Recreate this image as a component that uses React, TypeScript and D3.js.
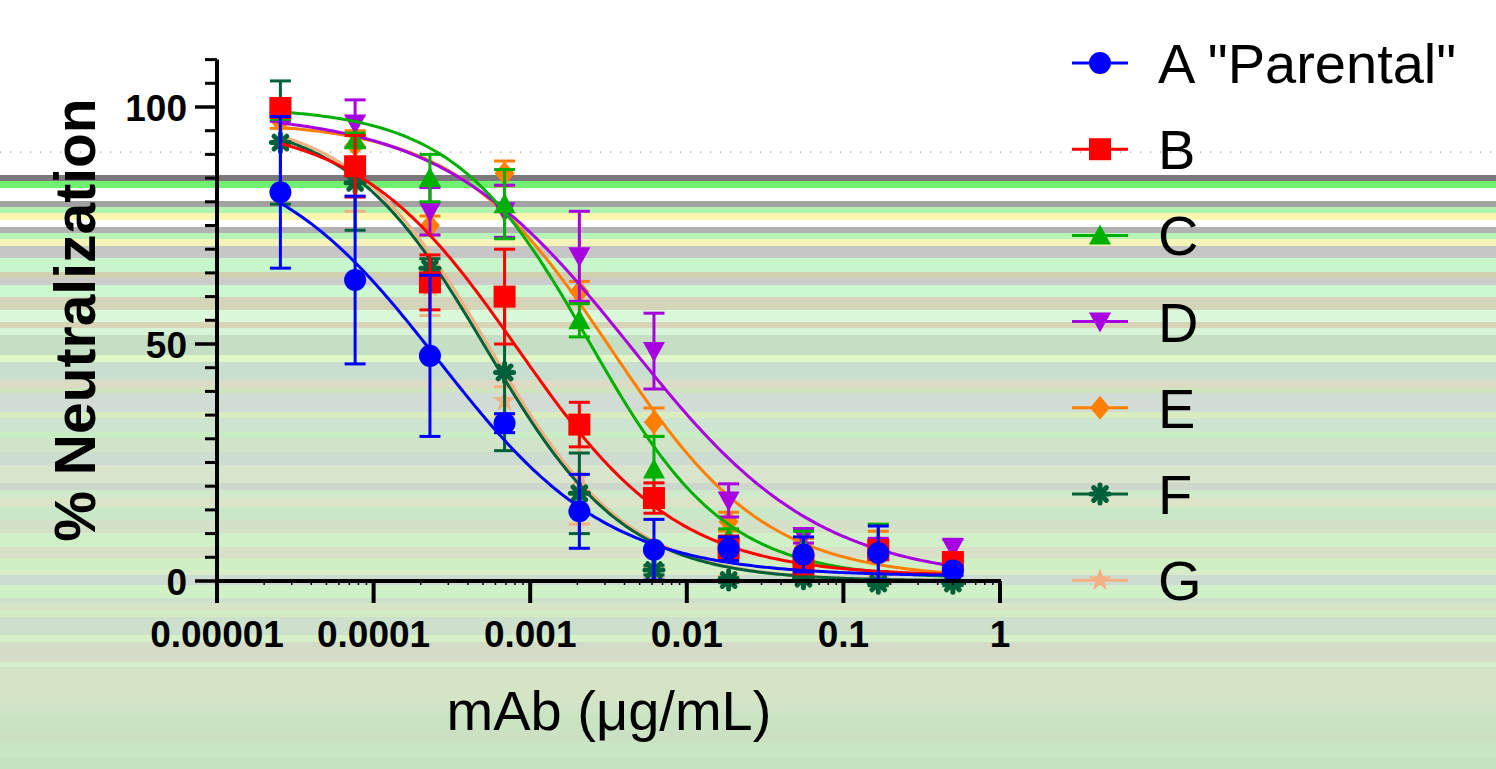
import React from "react";
import * as d3 from "d3";

const concentrations = [0.0000254, 0.0000762, 0.000229, 0.000686, 0.00206, 0.00617, 0.0185, 0.0556, 0.167, 0.5];

const seriesNames = ['A "Parental"', "B", "C", "D", "E", "F", "G"];
const meanA = [82, 63.5, 47.5, 33.3, 14.7, 6.6, 6.8, 5.6, 5.9, 2.2];
const sdA = [16, 17.7, 17, 2, 7.8, 6.4, 2.5, 3.7, 5.7, 1];
const meanB = [99.8, 87.5, 63, 60, 33, 17.5, 7, 3.5, 6.5, 4];
const sdB = [1, 6.5, 5.8, 10, 4.7, 3.2, 2.5, 1.5, 2, 1.5];
const meanC = [99, 93, 85, 79.5, 55, 23.5, 9, 7, 7, 3];
const sdC = [1, 1.5, 5, 7.3, 3.5, 7, 2, 3.5, 5, 1];
const meanD = [98, 96.5, 78, 78, 68.5, 48.5, 17, 9.5, 7, 7];
const sdD = [1, 5, 5, 5.5, 9.5, 8, 3.5, 1.5, 2, 1.8];
const meanE = [97, 92, 75, 86, 61, 33.5, 12.5, 7, 7.5, 4];
const sdE = [1.5, 3, 2, 2.6, 2.2, 3, 2, 2, 3, 1];
const meanF = [92.5, 84, 66, 44, 18.5, 2.3, 0.2, 0.5, -0.5, -0.5];
const sdF = [13, 10, 2, 16.5, 8.5, 1, 0.5, 0.5, 0.5, 0.5];
const meanG = [98, 88, 62, 38, 22, 2, 0.5, 0.5, 0.5, 0.5];
const sdG = [1, 10, 6, 3, 10, 1, 0.5, 0.5, 0.5, 0.5];

// 4-parameter logistic fit parameters (per series)
const fitTop = [92, 97, 100, 99, 97, 98, 98.5];
const fitBottom = [1, 1, 0.5, 0, 0.5, 0, 0];
const fitLogIC50 = [-3.585, -3.08, -2.62, -2.36, -2.48, -3.28, -3.26];
const fitHill = [0.8, 0.85, 1.0, 0.72, 0.88, 0.98, 0.98];

const colors = ["#0000ff", "#ff0000", "#00b000", "#a800e0", "#ff8000", "#00603a", "#f4b080"];
const shapes = ["circle", "square", "triangle", "invtriangle", "diamond", "asterisk", "star"];

const xTickValues = [0.00001, 0.0001, 0.001, 0.01, 0.1, 1];
const xTickLabels = ["0.00001", "0.0001", "0.001", "0.01", "0.1", "1"];
const yTickValues = [0, 50, 100];
const yTickLabels = ["0", "50", "100"];

// background horizontal bands of the picture: [top, bottom, colour]
const bgBands: [number, number, string][] = [
  [175, 181, "#7a7a7a"], [181, 188, "#70f070"], [188, 201, "#ffffff"], [201, 207, "#a2a2a2"],
  [207, 213, "#b0f4b0"], [213, 220, "#f8f8b0"], [220, 227, "#ffffff"], [227, 233, "#b2b2b2"],
  [233, 239, "#b8f4b8"], [239, 246, "#f4f4b8"], [246, 258, "#c6c6c6"], [258, 272, "#c6f6ca"],
  [272, 278, "#d0d0b0"], [278, 285, "#cccccc"], [285, 297, "#ccf8d0"], [297, 310, "#d4d4b8"],
  [310, 322, "#daf8da"], [322, 328, "#d8d4b8"], [328, 335, "#d8f4d8"], [335, 355, "#c4dfc4"],
  [355, 362, "#e0f8c8"], [362, 380, "#c8dfd0"], [380, 388, "#dcdcc4"], [388, 393, "#d0e4c0"],
  [393, 412, "#d0dcd4"], [412, 418, "#d8ecc0"], [418, 432, "#cce4d0"], [432, 438, "#c8ecc4"],
  [438, 452, "#d0e4c8"], [452, 465, "#ccdcd0"], [465, 483, "#d8e4cc"], [483, 490, "#ccd8cc"],
  [490, 497, "#d0e8cc"], [497, 507, "#dce4c8"], [507, 520, "#c8e8c8"], [520, 533, "#d4e0c8"],
  [533, 547, "#d0f0c8"], [547, 558, "#d8e0c8"], [558, 570, "#d0f0c4"], [570, 575, "#d8ecc8"],
  [575, 585, "#ccdcd0"], [585, 598, "#d0f0c8"], [598, 603, "#cce0cc"], [603, 610, "#d8e4c8"],
  [610, 617, "#d4ecc4"], [617, 635, "#cce0cc"], [635, 642, "#d8f0c8"], [642, 662, "#d4dcc8"],
  [662, 667, "#d4f0cc"], [667, 703, "#d4e4c4"], [703, 713, "#d0e4c8"], [713, 730, "#c8e4c0"],
  [730, 743, "#cce0c4"], [743, 757, "#c8e8c4"], [757, 769, "#c4e4c0"],
];

const means = [meanA, meanB, meanC, meanD, meanE, meanF, meanG];
const sds = [sdA, sdB, sdC, sdD, sdE, sdF, sdG];

const FONT = "'Liberation Sans', Arial, Helvetica, sans-serif";

function Marker({ shape, cx, cy, color }: { shape: string; cx: number; cy: number; color: string }) {
  const r = 11;
  switch (shape) {
    case "circle":
      return <circle cx={cx} cy={cy} r={r} fill={color} />;
    case "square":
      return <rect x={cx - r} y={cy - r} width={2 * r} height={2 * r} fill={color} />;
    case "triangle":
      return <path d={`M${cx},${cy - 11}L${cx + 11},${cy + 9}L${cx - 11},${cy + 9}Z`} fill={color} />;
    case "invtriangle":
      return <path d={`M${cx},${cy + 11}L${cx + 11},${cy - 9}L${cx - 11},${cy - 9}Z`} fill={color} />;
    case "diamond":
      return <path d={`M${cx},${cy - 12}L${cx + 10},${cy}L${cx},${cy + 12}L${cx - 10},${cy}Z`} fill={color} />;
    case "asterisk": {
      const arms = [0, 45, 90, 135];
      return (
        <g>
          {arms.map((a) => {
            const rad = (a * Math.PI) / 180;
            const dx = Math.cos(rad) * 9;
            const dy = Math.sin(rad) * 9;
            return (
              <line key={a} x1={cx - dx} y1={cy - dy} x2={cx + dx} y2={cy + dy}
                stroke={color} strokeWidth={5} strokeLinecap="round" />
            );
          })}
          <circle cx={cx} cy={cy} r={6} fill={color} />
        </g>
      );
    }
    case "star": {
      const pts: string[] = [];
      for (let k = 0; k < 10; k++) {
        const rr = k % 2 === 0 ? 12 : 4.8;
        const ang = -Math.PI / 2 + (k * Math.PI) / 5;
        pts.push(`${cx + rr * Math.cos(ang)},${cy + rr * Math.sin(ang)}`);
      }
      return <polygon points={pts.join(" ")} fill={color} />;
    }
  }
  return null;
}

export default function App() {
  const W = 1496;
  const H = 769;
  const x = d3.scaleLog().domain([1e-5, 1]).range([217, 1000]);
  const y = d3.scaleLinear().domain([0, 110]).range([581, 59.6]);

  const minorY = d3.range(5, 111, 5).filter((v) => v % 50 !== 0);
  const minorX: number[] = [];
  for (let e = -5; e < 0; e++) {
    for (let m = 2; m <= 9; m++) minorX.push(m * Math.pow(10, e));
  }

  const logMin = Math.log10(concentrations[0]);
  const logMax = Math.log10(concentrations[concentrations.length - 1]);
  const curveLogs = d3.range(0, 301).map((i) => logMin + ((logMax - logMin) * i) / 300);

  const line = d3
    .line<[number, number]>()
    .x((d) => x(d[0]))
    .y((d) => y(d[1]));

  const curveFor = (s: number) =>
    line(
      curveLogs.map((lx) => {
        const v =
          fitBottom[s] + (fitTop[s] - fitBottom[s]) / (1 + Math.pow(10, fitHill[s] * (lx - fitLogIC50[s])));
        return [Math.pow(10, lx), v] as [number, number];
      })
    ) || "";

  const order = [6, 5, 4, 3, 2, 1, 0];
  const dots = d3.range(0, W, 10);

  return (
    <svg width={W} height={H} style={{ position: "absolute", left: 0, top: 0, background: "#ffffff" }}
      fontFamily={FONT}>
      <rect x={0} y={0} width={W} height={H} fill="#ffffff" />
      {bgBands.map(([a, b, c], i) => (
        <rect key={i} x={0} y={a} width={W} height={b - a} fill={c} />
      ))}
      {dots.map((dx) => (
        <rect key={dx} x={dx} y={151.5} width={1.2} height={1.2} fill="#9a9a9a" />
      ))}

      {/* data sets */}
      {order.map((s) => (
        <g key={s}>
          <path d={curveFor(s)} fill="none" stroke={colors[s]} strokeWidth={3} />
          {concentrations.map((c, i) => {
            const cx = x(c);
            const m = means[s][i];
            const e = sds[s][i];
            const yt = y(m + e);
            const yb = y(m - e);
            return (
              <g key={i} stroke={colors[s]} strokeWidth={3}>
                <line x1={cx} x2={cx} y1={yt} y2={yb} />
                <line x1={cx - 10.5} x2={cx + 10.5} y1={yt} y2={yt} />
                <line x1={cx - 10.5} x2={cx + 10.5} y1={yb} y2={yb} />
              </g>
            );
          })}
          {concentrations.map((c, i) => (
            <Marker key={i} shape={shapes[s]} cx={x(c)} cy={y(means[s][i])} color={colors[s]} />
          ))}
        </g>
      ))}

      {/* y axis */}
      <line x1={217} x2={217} y1={y(110)} y2={y(0) + 2} stroke="#000" strokeWidth={4} />
      {minorY.map((v) => (
        <line key={v} x1={205} x2={217} y1={y(v)} y2={y(v)} stroke="#000" strokeWidth={3} />
      ))}
      {yTickValues.map((v, i) => (
        <g key={v}>
          <line x1={195} x2={217} y1={y(v)} y2={y(v)} stroke="#000" strokeWidth={3.5} />
          <text x={187} y={y(v) + 14} textAnchor="end" fontSize={37} fontWeight="bold" fill="#000">
            {yTickLabels[i]}
          </text>
        </g>
      ))}

      {/* x axis */}
      <line x1={215} x2={1001} y1={581} y2={581} stroke="#000" strokeWidth={4} />
      {minorX.map((v) => (
        <line key={v} x1={x(v)} x2={x(v)} y1={581} y2={585} stroke="#000" strokeWidth={1.5} />
      ))}
      {xTickValues.map((v, i) => (
        <g key={v}>
          <line x1={x(v)} x2={x(v)} y1={581} y2={603} stroke="#000" strokeWidth={4} />
          <text x={x(v)} y={647} textAnchor="middle" fontSize={37} fontWeight="bold" fill="#000">
            {xTickLabels[i]}
          </text>
        </g>
      ))}

      {/* axis titles */}
      <text transform="translate(95,320) rotate(-90)" textAnchor="middle" fontSize={57} fontWeight="bold" fill="#000">
        % Neutralization
      </text>
      <text x={609} y={730} textAnchor="middle" fontSize={56} fill="#000">
        mAb (μg/mL)
      </text>

      {/* legend */}
      {seriesNames.map((name, s) => {
        const ly = 63 + s * 86.2;
        return (
          <g key={name}>
            <line x1={1072} x2={1128} y1={ly} y2={ly} stroke={colors[s]} strokeWidth={3} />
            <Marker shape={shapes[s]} cx={1100} cy={ly} color={colors[s]} />
            <text x={1158} y={ly + 20} fontSize={56} fill="#000">
              {name}
            </text>
          </g>
        );
      })}
    </svg>
  );
}
